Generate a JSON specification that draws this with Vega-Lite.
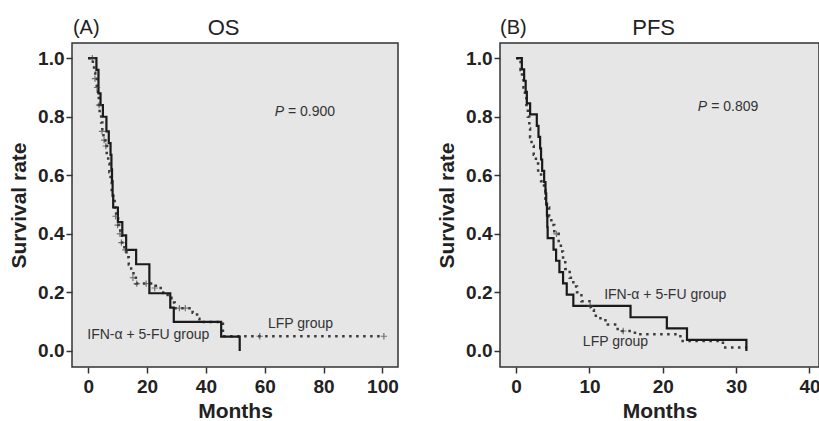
{
  "$schema": "https://vega.github.io/schema/vega-lite/v6.json",
  "padding": {"left": 7, "top": 16, "right": 0, "bottom": 0},
  "background": "white",
  "spacing": 102,
  "bounds": "flush",
  "config": {
    "view": {"stroke": "#333333", "strokeWidth": 1.5, "fill": "#e6e6e6"},
    "axis": {"domain": false, "grid": false, "tickColor": "#333333", "tickSize": 6, "tickWidth": 1.5,
      "labelFont": "Liberation Sans", "labelFontWeight": "bold", "labelFontSize": 19, "labelColor": "#222222",
      "titleFont": "Liberation Sans", "titleFontSize": 21, "titleFontWeight": "bold", "titleColor": "#222222"},
    "text": {"font": "Liberation Sans"}
  },
  "datasets": {
    "one": [{}],
    "os": [
      {"group": "IFN", "month": 0, "surv": 1.0},
      {"group": "IFN", "month": 2.8, "surv": 0.96},
      {"group": "IFN", "month": 3.5, "surv": 0.88},
      {"group": "IFN", "month": 4.2, "surv": 0.84},
      {"group": "IFN", "month": 5.0, "surv": 0.80},
      {"group": "IFN", "month": 6.2, "surv": 0.75},
      {"group": "IFN", "month": 7.0, "surv": 0.71},
      {"group": "IFN", "month": 7.6, "surv": 0.67},
      {"group": "IFN", "month": 7.9, "surv": 0.62},
      {"group": "IFN", "month": 8.1, "surv": 0.58},
      {"group": "IFN", "month": 8.3, "surv": 0.53},
      {"group": "IFN", "month": 8.5, "surv": 0.49},
      {"group": "IFN", "month": 10.1, "surv": 0.44},
      {"group": "IFN", "month": 11.6, "surv": 0.395},
      {"group": "IFN", "month": 12.9, "surv": 0.345},
      {"group": "IFN", "month": 16.3, "surv": 0.296},
      {"group": "IFN", "month": 20.8, "surv": 0.197},
      {"group": "IFN", "month": 27.9, "surv": 0.148},
      {"group": "IFN", "month": 29.1, "surv": 0.099},
      {"group": "IFN", "month": 45.2, "surv": 0.049},
      {"group": "IFN", "month": 51.5, "surv": 0.0},
      {"group": "LFP", "month": 0, "surv": 1.0},
      {"group": "LFP", "month": 1.6, "surv": 0.98},
      {"group": "LFP", "month": 2.0, "surv": 0.95},
      {"group": "LFP", "month": 2.4, "surv": 0.93},
      {"group": "LFP", "month": 2.9, "surv": 0.90},
      {"group": "LFP", "month": 3.3, "surv": 0.87},
      {"group": "LFP", "month": 3.6, "surv": 0.84},
      {"group": "LFP", "month": 3.9, "surv": 0.81},
      {"group": "LFP", "month": 4.4, "surv": 0.78},
      {"group": "LFP", "month": 4.8, "surv": 0.75},
      {"group": "LFP", "month": 5.2, "surv": 0.72},
      {"group": "LFP", "month": 5.8, "surv": 0.70},
      {"group": "LFP", "month": 6.3, "surv": 0.67},
      {"group": "LFP", "month": 6.8, "surv": 0.64},
      {"group": "LFP", "month": 7.2, "surv": 0.61},
      {"group": "LFP", "month": 7.6, "surv": 0.58},
      {"group": "LFP", "month": 8.0, "surv": 0.55},
      {"group": "LFP", "month": 8.5, "surv": 0.52},
      {"group": "LFP", "month": 9.0, "surv": 0.49},
      {"group": "LFP", "month": 9.5, "surv": 0.46},
      {"group": "LFP", "month": 10.2, "surv": 0.43},
      {"group": "LFP", "month": 10.9, "surv": 0.40},
      {"group": "LFP", "month": 11.5, "surv": 0.37},
      {"group": "LFP", "month": 12.3, "surv": 0.345},
      {"group": "LFP", "month": 13.0, "surv": 0.32},
      {"group": "LFP", "month": 13.8, "surv": 0.295},
      {"group": "LFP", "month": 14.6, "surv": 0.27},
      {"group": "LFP", "month": 15.4, "surv": 0.25},
      {"group": "LFP", "month": 16.2, "surv": 0.23},
      {"group": "LFP", "month": 23.0, "surv": 0.215},
      {"group": "LFP", "month": 25.5, "surv": 0.198},
      {"group": "LFP", "month": 27.0, "surv": 0.182},
      {"group": "LFP", "month": 28.3, "surv": 0.165},
      {"group": "LFP", "month": 29.4, "surv": 0.146},
      {"group": "LFP", "month": 35.5, "surv": 0.13},
      {"group": "LFP", "month": 37.0, "surv": 0.11},
      {"group": "LFP", "month": 37.8, "surv": 0.099},
      {"group": "LFP", "month": 45.8, "surv": 0.05},
      {"group": "LFP", "month": 100.5, "surv": 0.05}
    ],
    "osCens": [
      {"month": 1.4, "surv": 1.0},
      {"month": 2.3, "surv": 0.93},
      {"month": 3.0, "surv": 0.90},
      {"month": 3.7, "surv": 0.84},
      {"month": 4.7, "surv": 0.75},
      {"month": 5.4, "surv": 0.72},
      {"month": 6.0, "surv": 0.70},
      {"month": 9.3, "surv": 0.46},
      {"month": 10.0, "surv": 0.43},
      {"month": 10.8, "surv": 0.40},
      {"month": 11.3, "surv": 0.37},
      {"month": 12.6, "surv": 0.345},
      {"month": 15.2, "surv": 0.25},
      {"month": 16.5, "surv": 0.23},
      {"month": 19.7, "surv": 0.23},
      {"month": 22.6, "surv": 0.215},
      {"month": 31.0, "surv": 0.146},
      {"month": 33.0, "surv": 0.146},
      {"month": 58.3, "surv": 0.05},
      {"month": 100.5, "surv": 0.05}
    ],
    "pfs": [
      {"group": "IFN", "month": 0, "surv": 1.0},
      {"group": "IFN", "month": 0.78, "surv": 0.962},
      {"group": "IFN", "month": 1.09, "surv": 0.923},
      {"group": "IFN", "month": 1.3, "surv": 0.885},
      {"group": "IFN", "month": 1.46, "surv": 0.846},
      {"group": "IFN", "month": 1.91, "surv": 0.808},
      {"group": "IFN", "month": 2.82, "surv": 0.769},
      {"group": "IFN", "month": 3.05, "surv": 0.731},
      {"group": "IFN", "month": 3.27, "surv": 0.692},
      {"group": "IFN", "month": 3.4, "surv": 0.654},
      {"group": "IFN", "month": 3.55, "surv": 0.615},
      {"group": "IFN", "month": 3.82, "surv": 0.577},
      {"group": "IFN", "month": 4.0, "surv": 0.538},
      {"group": "IFN", "month": 4.1, "surv": 0.5},
      {"group": "IFN", "month": 4.2, "surv": 0.462},
      {"group": "IFN", "month": 4.25, "surv": 0.423},
      {"group": "IFN", "month": 4.3, "surv": 0.385},
      {"group": "IFN", "month": 5.1, "surv": 0.346},
      {"group": "IFN", "month": 5.45, "surv": 0.308},
      {"group": "IFN", "month": 5.9, "surv": 0.269},
      {"group": "IFN", "month": 6.4, "surv": 0.231},
      {"group": "IFN", "month": 6.9, "surv": 0.192},
      {"group": "IFN", "month": 7.8, "surv": 0.154},
      {"group": "IFN", "month": 15.6, "surv": 0.115},
      {"group": "IFN", "month": 20.55, "surv": 0.077},
      {"group": "IFN", "month": 23.3, "surv": 0.038},
      {"group": "IFN", "month": 31.4, "surv": 0.0},
      {"group": "LFP", "month": 0, "surv": 1.0},
      {"group": "LFP", "month": 0.6, "surv": 0.96},
      {"group": "LFP", "month": 0.8, "surv": 0.93},
      {"group": "LFP", "month": 1.0, "surv": 0.90},
      {"group": "LFP", "month": 1.2, "surv": 0.87},
      {"group": "LFP", "month": 1.4, "surv": 0.84},
      {"group": "LFP", "month": 1.6, "surv": 0.80},
      {"group": "LFP", "month": 1.8, "surv": 0.76},
      {"group": "LFP", "month": 1.9, "surv": 0.73},
      {"group": "LFP", "month": 2.1, "surv": 0.70},
      {"group": "LFP", "month": 2.4, "surv": 0.67},
      {"group": "LFP", "month": 2.7, "surv": 0.64},
      {"group": "LFP", "month": 3.0, "surv": 0.61},
      {"group": "LFP", "month": 3.4, "surv": 0.58},
      {"group": "LFP", "month": 3.8, "surv": 0.55},
      {"group": "LFP", "month": 4.0, "surv": 0.52},
      {"group": "LFP", "month": 4.2, "surv": 0.49},
      {"group": "LFP", "month": 4.5, "surv": 0.46},
      {"group": "LFP", "month": 4.8, "surv": 0.43},
      {"group": "LFP", "month": 5.2, "surv": 0.40},
      {"group": "LFP", "month": 5.8, "surv": 0.37},
      {"group": "LFP", "month": 6.1, "surv": 0.34},
      {"group": "LFP", "month": 6.4, "surv": 0.31},
      {"group": "LFP", "month": 6.7, "surv": 0.28},
      {"group": "LFP", "month": 7.3, "surv": 0.25},
      {"group": "LFP", "month": 7.8, "surv": 0.22},
      {"group": "LFP", "month": 8.3, "surv": 0.20},
      {"group": "LFP", "month": 8.9, "surv": 0.17},
      {"group": "LFP", "month": 10.2, "surv": 0.14},
      {"group": "LFP", "month": 10.6, "surv": 0.12},
      {"group": "LFP", "month": 11.5, "surv": 0.105},
      {"group": "LFP", "month": 12.5, "surv": 0.09},
      {"group": "LFP", "month": 13.5, "surv": 0.075},
      {"group": "LFP", "month": 14.5, "surv": 0.068},
      {"group": "LFP", "month": 16.2, "surv": 0.057},
      {"group": "LFP", "month": 22.4, "surv": 0.034},
      {"group": "LFP", "month": 28.2, "surv": 0.012},
      {"group": "LFP", "month": 31.5, "surv": 0.012}
    ],
    "pfsCens": [
      {"month": 5.5, "surv": 0.40},
      {"month": 10.1, "surv": 0.154},
      {"month": 14.6, "surv": 0.068}
    ]
  },
  "hconcat": [
    {
      "width": 326,
      "height": 324,
      "layer": [
        {
          "data": {"name": "os"},
          "transform": [{"filter": "datum.group === 'LFP'"}],
          "mark": {"type": "line", "interpolate": "step-after", "stroke": "#3a3a3a", "strokeWidth": 2.5, "strokeDash": [2.5, 4.5], "clip": true},
          "encoding": {
            "x": {"field": "month", "type": "quantitative", "scale": {"domain": [-5.5, 105.3], "nice": false, "zero": false},
              "axis": {"values": [0, 20, 40, 60, 80, 100], "title": "Months", "titlePadding": 4, "labelPadding": 4}},
            "y": {"field": "surv", "type": "quantitative", "scale": {"domain": [-0.055, 1.052], "nice": false, "zero": false},
              "axis": {"values": [0, 0.2, 0.4, 0.6, 0.8, 1.0], "format": ".1f", "title": "Survival rate", "titlePadding": 8, "labelPadding": 2}}
          }
        },
        {
          "data": {"name": "os"},
          "transform": [{"filter": "datum.group === 'IFN'"}],
          "mark": {"type": "line", "interpolate": "step-after", "stroke": "#1a1a1a", "strokeWidth": 2.2, "clip": true},
          "encoding": {
            "x": {"field": "month", "type": "quantitative"},
            "y": {"field": "surv", "type": "quantitative"}
          }
        },
        {
          "data": {"name": "osCens"},
          "mark": {"type": "point", "shape": "M-1,0L1,0M0,-1L0,1", "filled": false, "stroke": "#444444", "strokeWidth": 1.2, "size": 40},
          "encoding": {
            "x": {"field": "month", "type": "quantitative"},
            "y": {"field": "surv", "type": "quantitative"}
          }
        },
        {
          "data": {"name": "one"},
          "mark": {"type": "text", "text": "(A)", "fontSize": 20, "align": "left", "baseline": "middle", "color": "#222222"},
          "encoding": {"x": {"datum": -5.2}, "y": {"datum": 1.103}}
        },
        {
          "data": {"name": "one"},
          "mark": {"type": "text", "text": "OS", "fontSize": 22, "align": "center", "baseline": "middle", "color": "#222222"},
          "encoding": {"x": {"datum": 46}, "y": {"datum": 1.103}}
        },
        {
          "data": {"name": "one"},
          "mark": {"type": "text", "text": "P", "fontSize": 14, "fontStyle": "italic", "align": "right", "baseline": "middle", "color": "#333333"},
          "encoding": {"x": {"datum": 66.6}, "y": {"datum": 0.817}}
        },
        {
          "data": {"name": "one"},
          "mark": {"type": "text", "text": "= 0.900", "fontSize": 14, "align": "left", "baseline": "middle", "color": "#333333"},
          "encoding": {"x": {"datum": 67.9}, "y": {"datum": 0.817}}
        },
        {
          "data": {"name": "one"},
          "mark": {"type": "text", "text": "IFN-α + 5-FU group", "fontSize": 14, "align": "left", "baseline": "middle", "color": "#333333"},
          "encoding": {"x": {"datum": -0.3}, "y": {"datum": 0.055}}
        },
        {
          "data": {"name": "one"},
          "mark": {"type": "text", "text": "LFP group", "fontSize": 14, "align": "left", "baseline": "middle", "color": "#333333"},
          "encoding": {"x": {"datum": 61.1}, "y": {"datum": 0.093}}
        }
      ]
    },
    {
      "width": 319,
      "height": 324,
      "layer": [
        {
          "data": {"name": "pfs"},
          "transform": [{"filter": "datum.group === 'LFP'"}],
          "mark": {"type": "line", "interpolate": "step-after", "stroke": "#3a3a3a", "strokeWidth": 2.5, "strokeDash": [2.5, 4.5], "clip": true},
          "encoding": {
            "x": {"field": "month", "type": "quantitative", "scale": {"domain": [-2.2, 41.3], "nice": false, "zero": false},
              "axis": {"values": [0, 10, 20, 30, 40], "title": "Months", "titlePadding": 4, "labelPadding": 4}},
            "y": {"field": "surv", "type": "quantitative", "scale": {"domain": [-0.055, 1.052], "nice": false, "zero": false},
              "axis": {"values": [0, 0.2, 0.4, 0.6, 0.8, 1.0], "format": ".1f", "title": "Survival rate", "titlePadding": 8, "labelPadding": 2}}
          }
        },
        {
          "data": {"name": "pfs"},
          "transform": [{"filter": "datum.group === 'IFN'"}],
          "mark": {"type": "line", "interpolate": "step-after", "stroke": "#1a1a1a", "strokeWidth": 2.2, "clip": true},
          "encoding": {
            "x": {"field": "month", "type": "quantitative"},
            "y": {"field": "surv", "type": "quantitative"}
          }
        },
        {
          "data": {"name": "pfsCens"},
          "mark": {"type": "point", "shape": "M-1,0L1,0M0,-1L0,1", "filled": false, "stroke": "#444444", "strokeWidth": 1.2, "size": 40},
          "encoding": {
            "x": {"field": "month", "type": "quantitative"},
            "y": {"field": "surv", "type": "quantitative"}
          }
        },
        {
          "data": {"name": "one"},
          "mark": {"type": "text", "text": "(B)", "fontSize": 20, "align": "left", "baseline": "middle", "color": "#222222"},
          "encoding": {"x": {"datum": -2.2}, "y": {"datum": 1.103}}
        },
        {
          "data": {"name": "one"},
          "mark": {"type": "text", "text": "PFS", "fontSize": 22, "align": "center", "baseline": "middle", "color": "#222222"},
          "encoding": {"x": {"datum": 18.75}, "y": {"datum": 1.103}}
        },
        {
          "data": {"name": "one"},
          "mark": {"type": "text", "text": "P", "fontSize": 14, "fontStyle": "italic", "align": "right", "baseline": "middle", "color": "#333333"},
          "encoding": {"x": {"datum": 26.05}, "y": {"datum": 0.833}}
        },
        {
          "data": {"name": "one"},
          "mark": {"type": "text", "text": "= 0.809", "fontSize": 14, "align": "left", "baseline": "middle", "color": "#333333"},
          "encoding": {"x": {"datum": 26.6}, "y": {"datum": 0.833}}
        },
        {
          "data": {"name": "one"},
          "mark": {"type": "text", "text": "IFN-α + 5-FU group", "fontSize": 14, "align": "left", "baseline": "middle", "color": "#333333"},
          "encoding": {"x": {"datum": 12.0}, "y": {"datum": 0.191}}
        },
        {
          "data": {"name": "one"},
          "mark": {"type": "text", "text": "LFP group", "fontSize": 14, "align": "left", "baseline": "middle", "color": "#333333"},
          "encoding": {"x": {"datum": 9.1}, "y": {"datum": 0.031}}
        }
      ]
    }
  ]
}
